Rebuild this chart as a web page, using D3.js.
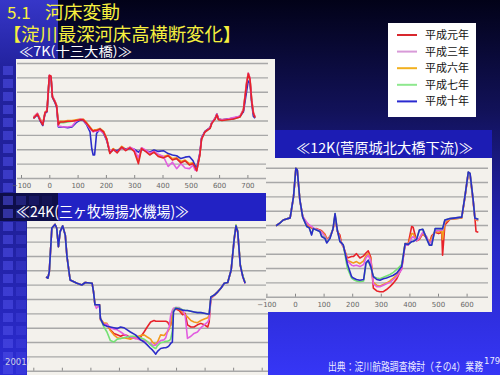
<!DOCTYPE html>
<html>
<head>
<meta charset="utf-8">
<script src="https://cdn.jsdelivr.net/npm/d3@7"></script>
<style>
body { margin: 0; background: #000; }
svg { display: block; }
</style>
</head>
<body>
<div id="chart"></div>
<script>
// 平成元年, 平成三年, 平成六年, 平成七年, 平成十年
const seriesNames = ["平成元年", "平成三年", "平成六年", "平成七年", "平成十年"];

// 7K (十三大橋): distance (m) and bed elevation (m)
const dist7K = [-56,-42,-33,-23,-15,-8,0,6,11,20,26,32,38,50,65,80,95,110,120,132,144,150,155,160,167,179,192,203,214,226,240,256,270,285,300,315,326,340,355,370,385,403,420,435,450,465,480,495,508,515,521,532,538,550,568,574,586,592,598,610,630,651,674,686,697,703,709,715,721,727];
const h1_7K = [-1.7,-1.1,-1.9,-2.6,-0.9,-0.7,4.3,4.2,1.3,0.6,0.0,-2.6,-2.2,-2.2,-2.1,-2.1,-2.0,-1.9,-1.9,-2.4,-3.0,-3.3,-3.5,-3.4,-3.4,-3.2,-3.6,-4.6,-6.6,-6.0,-6.5,-5.7,-6.2,-5.8,-6.3,-8.0,-5.9,-6.3,-6.8,-6.4,-7.0,-7.2,-6.9,-7.5,-7.3,-7.9,-7.6,-8.2,-8.0,-8.5,-9.0,-6.8,-4.6,-3.6,-3.1,-2.4,-1.8,-1.2,-1.9,-2.0,-1.9,-1.8,-1.5,-0.6,3.0,4.5,3.8,0.8,-1.0,-1.6];
const h3_7K = [-1.6,-1.0,-1.8,-2.5,-0.9,-0.6,4.3,4.1,1.4,0.7,0.0,-2.8,-2.8,-2.9,-2.9,-2.8,-2.1,-1.8,-1.9,-2.5,-3.2,-3.4,-3.6,-3.5,-3.5,-3.4,-3.7,-4.7,-6.2,-6.1,-6.4,-5.8,-6.1,-5.7,-6.0,-7.2,-5.8,-6.1,-6.5,-6.3,-6.7,-7.0,-8.4,-7.8,-8.7,-8.0,-8.6,-8.7,-8.2,-8.9,-9.0,-6.6,-4.5,-3.6,-3.0,-2.3,-1.7,-1.1,-1.8,-1.9,-1.8,-1.6,-1.4,-0.5,3.2,4.6,3.9,0.9,-0.9,-1.5];
const h6_7K = [-1.5,-1.0,-1.7,-2.4,-0.8,-0.6,4.2,4.1,1.4,0.7,0.1,-2.4,-2.1,-2.1,-2.0,-2.0,-1.9,-1.8,-1.8,-2.3,-2.9,-3.2,-3.4,-3.3,-3.3,-3.1,-3.5,-4.5,-6.4,-5.9,-6.3,-5.6,-6.0,-5.7,-6.1,-7.5,-5.8,-6.2,-6.6,-6.3,-6.8,-7.0,-6.8,-7.3,-7.2,-7.7,-7.5,-8.0,-7.9,-8.3,-8.8,-6.7,-4.5,-3.5,-3.0,-2.3,-1.7,-1.1,-1.8,-1.9,-1.8,-1.7,-1.4,-0.4,3.3,4.6,3.9,1.0,-0.8,-1.5];
const h7_7K = [-1.6,-1.1,-1.8,-2.5,-0.9,-0.7,4.2,4.0,1.3,0.6,0.0,-2.5,-2.3,-2.3,-2.2,-2.1,-2.0,-1.9,-1.9,-2.4,-3.0,-3.3,-3.5,-3.4,-3.4,-3.2,-3.6,-4.6,-6.5,-6.0,-6.4,-5.7,-6.1,-5.8,-6.2,-7.6,-5.9,-6.2,-6.7,-6.4,-6.9,-7.1,-6.9,-7.4,-7.3,-7.8,-7.6,-8.1,-8.0,-8.4,-8.9,-6.8,-4.6,-3.6,-3.1,-2.4,-1.8,-1.2,-1.9,-2.0,-1.9,-1.8,-1.5,-0.6,3.0,4.4,3.7,0.8,-1.0,-1.6];
const h10_7K = [-1.7,-1.2,-2.0,-2.7,-1.0,-0.8,4.1,4.0,1.2,0.5,-0.2,-2.9,-2.9,-2.9,-3.0,-2.9,-2.3,-1.9,-2.0,-2.6,-3.6,-5.9,-6.8,-6.8,-3.8,-3.2,-3.8,-4.8,-6.4,-6.1,-6.2,-5.8,-6.0,-5.9,-6.0,-6.4,-6.0,-6.2,-6.4,-6.1,-6.3,-6.2,-6.6,-6.8,-6.9,-7.3,-7.1,-7.0,-7.6,-8.3,-8.6,-6.5,-4.4,-3.5,-3.0,-2.3,-1.7,-1.1,-1.8,-1.9,-1.8,-1.7,-1.4,-0.8,2.0,3.5,3.2,0.5,-1.4,-1.7];

// 12K (菅原城北大橋下流)
const dist12K = [-66,-52,-41,-17,-5,3,8,17,27,41,50,58,64,75,87,93,105,111,122,133,140,148,157,163,169,183,198,204,215,227,240,248,256,265,274,286,297,309,320,332,344,356,373,385,396,408,413,425,435,447,460,470,478,490,502,513,516,524,542,583,594,606,612,623,629,633,641];
const h1_12K = [-2.1,-1.7,-1.3,-1.0,2.0,5.9,5.7,1.5,-0.9,-2.0,-2.2,-2.4,-2.6,-2.5,-2.7,-2.8,-3.3,-4.0,-3.6,-2.6,-0.8,-2.9,-3.4,-4.6,-5.0,-6.6,-6.4,-6.4,-6.0,-6.6,-6.3,-5.9,-5.6,-6.5,-10.8,-11.2,-11.3,-11.3,-11.0,-10.6,-10.1,-9.5,-8.0,-4.6,-4.6,-2.2,-2.3,-4.2,-4.0,-3.2,-3.8,-4.5,-3.5,-3.0,-3.2,-3.0,-6.2,-2.0,-1.2,-1.0,1.8,5.3,5.0,1.2,-1.0,-2.9,-3.0];
const h3_12K = [-2.1,-1.7,-1.3,-1.0,2.0,5.8,5.6,1.4,-0.8,-1.6,-2.0,-2.2,-2.4,-2.6,-2.8,-3.0,-3.6,-4.2,-3.7,-2.6,-0.6,-2.8,-4.0,-4.6,-5.0,-7.0,-7.6,-7.7,-7.6,-7.8,-7.5,-6.6,-6.2,-7.0,-10.2,-10.6,-10.6,-10.4,-10.2,-10.0,-9.6,-9.2,-8.2,-4.8,-4.8,-3.8,-3.6,-4.2,-3.8,-3.0,-3.6,-4.6,-4.2,-2.8,-2.8,-2.7,-2.7,-1.4,-1.1,-0.9,1.9,5.4,5.2,1.5,-1.0,-1.2,-1.3];
const h6_12K = [-2.1,-1.7,-1.3,-1.0,2.0,5.8,5.6,1.4,-0.8,-1.8,-2.1,-2.3,-2.5,-2.6,-2.8,-2.9,-3.4,-4.1,-3.7,-2.6,-0.7,-2.8,-3.8,-4.6,-5.0,-6.9,-7.2,-7.3,-7.1,-7.4,-7.0,-6.3,-6.0,-6.8,-10.0,-10.4,-10.5,-10.3,-10.1,-9.8,-9.4,-9.0,-8.1,-4.7,-4.7,-3.2,-3.2,-4.1,-3.9,-3.1,-3.7,-4.5,-3.8,-2.9,-3.0,-2.8,-4.0,-1.6,-1.2,-1.0,1.9,5.3,5.1,1.4,-1.0,-1.3,-1.4];
const h7_12K = [-2.1,-1.7,-1.3,-1.0,2.0,5.9,5.7,1.5,-0.9,-2.2,-2.4,-3.3,-2.5,-2.7,-2.9,-3.5,-3.8,-4.4,-3.8,-2.5,-0.4,-2.7,-4.3,-4.5,-4.8,-8.0,-9.4,-9.6,-9.8,-9.9,-9.8,-7.4,-7.0,-7.9,-9.2,-9.4,-9.5,-9.3,-9.1,-8.9,-8.6,-8.2,-7.5,-4.6,-4.7,-4.3,-4.3,-4.0,-2.7,-2.6,-3.9,-4.8,-4.8,-2.5,-2.5,-2.5,-2.5,-1.3,-1.1,-0.9,1.95,5.4,5.2,1.5,-1.05,-1.1,-1.2];
const h10_12K = [-2.1,-1.7,-1.3,-1.0,2.0,5.9,5.7,1.5,-0.9,-2.2,-2.4,-3.4,-2.5,-2.7,-2.9,-3.6,-3.9,-4.5,-3.9,-2.5,-0.4,-2.7,-4.3,-4.5,-4.8,-7.4,-9.2,-9.4,-9.6,-9.7,-9.6,-7.3,-6.9,-7.8,-9.2,-9.6,-9.7,-9.5,-9.4,-9.2,-9.0,-8.7,-7.8,-4.6,-4.7,-4.3,-4.3,-4.0,-2.7,-2.6,-3.9,-4.8,-4.8,-2.5,-2.5,-2.5,-2.5,-1.3,-1.1,-0.9,1.95,5.4,5.2,1.5,-1.05,-1.1,-1.2];

// 24K (三ヶ牧場揚水機場)
const dist24K = [-55,-49,-44,-35,-24,-18,-12,-6,3,12,18,29,53,70,82,106,111,116,121,132,135,146,158,170,182,194,206,217,229,240,258,276,288,299,311,317,323,329,335,346,358,364,370,376,381,387,391,399,411,423,432,440,452,463,475,487,499,511,516,522,534,546,557,569,581,593,604,610,616,625,634,642];
const h1_24K = [-0.9,-1.1,-0.2,5.9,6.4,5.9,3.3,5.4,6.2,4.9,1.9,-1.35,-1.8,-2.05,-1.7,-1.8,-3.0,-4.8,-4.8,-4.8,-6.9,-7.4,-7.6,-8.3,-8.8,-9.0,-9.2,-9.0,-9.1,-9.4,-9.5,-9.3,-8.6,-7.9,-7.2,-7.1,-7.0,-7.1,-7.1,-7.1,-7.1,-7.1,-7.2,-7.6,-7.7,-6.5,-5.5,-5.4,-5.6,-6.2,-6.0,-7.6,-7.9,-7.9,-7.6,-7.4,-7.6,-7.9,-7.2,-3.9,-3.5,-3.0,-2.5,-1.8,-1.7,0.0,4.4,6.1,5.3,0.7,-0.9,-1.8];
const h3_24K = [-0.9,-1.1,-0.2,5.9,6.4,5.9,3.3,5.4,6.2,4.9,1.9,-1.35,-1.8,-2.05,-1.7,-1.8,-3.0,-4.8,-5.3,-4.8,-6.7,-7.6,-7.5,-8.0,-8.2,-8.3,-8.6,-8.9,-9.2,-9.3,-9.5,-9.7,-9.8,-10.0,-10.2,-10.4,-10.5,-10.4,-10.2,-9.8,-9.7,-9.4,-8.5,-7.9,-6.3,-5.6,-5.3,-5.2,-5.2,-5.6,-6.3,-9.5,-9.2,-8.8,-8.6,-8.0,-7.6,-7.2,-6.8,-3.8,-3.45,-3.0,-2.5,-1.8,-1.7,0.05,4.5,6.2,5.4,0.7,-0.9,-1.8];
const h6_24K = [-0.9,-1.1,-0.2,5.9,6.4,5.9,3.3,5.4,6.2,4.9,1.9,-1.35,-1.8,-2.05,-1.7,-1.8,-3.0,-4.8,-4.8,-4.8,-6.7,-7.3,-7.4,-8.4,-9.0,-9.4,-9.5,-9.4,-9.5,-9.6,-9.3,-9.1,-9.0,-9.3,-9.6,-10.0,-10.2,-10.4,-10.0,-9.0,-9.1,-8.8,-8.6,-8.2,-7.5,-6.0,-5.5,-5.3,-5.4,-5.8,-6.2,-6.5,-7.0,-7.2,-7.3,-7.0,-6.8,-6.6,-6.3,-3.8,-3.45,-3.0,-2.5,-1.8,-1.7,0.05,4.6,6.3,5.5,0.8,-0.8,-1.7];
const h7_24K = [-0.9,-1.1,-0.2,5.9,6.4,5.9,3.3,5.4,6.2,4.9,1.9,-1.35,-1.8,-2.05,-1.7,-1.8,-3.0,-4.8,-4.8,-4.8,-6.7,-7.8,-8.6,-9.8,-10.0,-9.6,-9.5,-9.4,-9.3,-9.2,-9.2,-9.4,-9.6,-9.9,-10.4,-10.6,-10.8,-10.9,-10.5,-10.1,-10.0,-9.9,-9.9,-9.8,-9.6,-8.5,-5.6,-5.2,-5.3,-5.5,-5.6,-5.6,-5.7,-5.8,-5.9,-5.9,-6.0,-6.1,-6.1,-3.7,-3.45,-3.0,-2.5,-1.8,-1.7,0.05,4.6,6.3,5.5,0.8,-0.8,-1.7];
const h10_24K = [-0.9,-1.1,-0.2,5.9,6.4,5.9,3.3,5.4,6.2,4.9,1.9,-1.35,-1.8,-2.05,-1.7,-1.8,-3.0,-4.8,-4.8,-4.8,-6.7,-7.6,-7.8,-7.9,-8.0,-8.1,-7.9,-8.0,-8.3,-8.6,-9.0,-9.7,-10.0,-10.4,-10.9,-11.1,-11.4,-11.7,-11.3,-10.9,-10.8,-10.8,-10.7,-10.5,-10.2,-10.0,-5.8,-5.3,-5.4,-5.55,-5.6,-5.6,-5.7,-5.8,-5.9,-5.9,-6.0,-6.1,-6.1,-3.7,-3.45,-3.0,-2.5,-1.8,-1.7,0.05,4.5,6.2,5.4,0.7,-0.9,-1.8];

const colors = ["#e8222a", "#e25ee0", "#f29a1e", "#74e074", "#2c2cc8"];
const legendColors = ["#d8282e", "#d89ad8", "#f2b01e", "#8ee88e", "#2a2ad0"];
const jp = "'Noto Sans CJK JP', 'Noto Sans', sans-serif";

const width = 500;
const height = 375;

const svg = d3.select("#chart")
    .append("svg")
    .attr("width", width)
    .attr("height", height);

const defs = svg.append("defs");

const bg = defs.append("linearGradient").attr("id", "bg")
    .attr("x1", 0).attr("y1", 0).attr("x2", 0).attr("y2", 1);
[[0, "#020218"], [0.3, "#12125a"], [0.65, "#2626c4"], [1, "#3636f6"]]
    .forEach(s => bg.append("stop").attr("offset", s[0]).attr("stop-color", s[1]));

const strip = defs.append("linearGradient").attr("id", "strip")
    .attr("x1", 0).attr("y1", 0).attr("x2", 0).attr("y2", 1);
[[0, "#3636c8"], [0.18, "#22229e"], [0.6, "#20209a"], [1, "#2c2cd6"]]
    .forEach(s => strip.append("stop").attr("offset", s[0]).attr("stop-color", s[1]));

svg.append("rect").attr("width", width).attr("height", height).attr("fill", "url(#bg)");
svg.append("rect").attr("width", 58).attr("height", height).attr("fill", "url(#strip)");
svg.append("rect").attr("x", 0).attr("y", 193).attr("width", 58).attr("height", 28).attr("fill", "#0e0e4a");

// decorative squares down the left edge
[0.55, 0.3, 0.15, 0.07].forEach((op, c) => {
    for (let yy = 66; yy < 370; yy += 13) {
        svg.append("rect")
            .attr("x", 3 + c * 13).attr("y", yy)
            .attr("width", 10).attr("height", 9)
            .attr("fill", "#5050ea").attr("opacity", op);
    }
});

// title bands
svg.append("rect").attr("x", 58).attr("y", 193).attr("width", 209).attr("height", 28).attr("fill", "#2222c4");
svg.append("rect").attr("x", 275).attr("y", 130).attr("width", 217).attr("height", 28).attr("fill", "#1c1cb4");

function drawPanel(p, dist, series, order) {
    const g = svg.append("g");

    g.append("rect")
        .attr("x", p.box[0]).attr("y", p.box[1])
        .attr("width", p.box[2]).attr("height", p.box[3])
        .attr("fill", "#f3f1ec");

    const x = d3.scaleLinear().domain(p.xDomain).range(p.xRange);
    const y = d3.scaleLinear().domain(p.yDomain).range(p.yRange);

    g.append("g")
        .attr("transform", `translate(${p.gridX[0]},0)`)
        .call(d3.axisLeft(y)
            .tickValues(d3.range(p.yDomain[0], p.yDomain[1] + 0.1, 2))
            .tickSize(-(p.gridX[1] - p.gridX[0]))
            .tickFormat(""))
        .call(a => a.select(".domain").remove())
        .call(a => a.selectAll("line").attr("stroke", "#a8a8a8").attr("stroke-width", 1.4));

    const ax = g.append("g")
        .attr("transform", `translate(0,${p.yRange[0]})`)
        .call(d3.axisBottom(x)
            .tickValues(d3.range(p.xDomain[0], p.xDomain[1] + 1, 100))
            .tickSize(-3)
            .tickPadding(5)
            .tickFormat(p.labels ? d3.format("d") : ""));
    ax.select(".domain").remove();
    ax.selectAll("line").attr("stroke", "#888");
    ax.selectAll("text")
        .attr("fill", "#666")
        .attr("font-size", 7)
        .attr("font-family", "'DejaVu Sans', sans-serif");

    const line = d3.line()
        .x((d, i) => x(dist[i]))
        .y(d => y(d));

    order.forEach(k => {
        g.append("path")
            .datum(series[k])
            .attr("d", line)
            .attr("fill", "none")
            .attr("stroke", colors[k])
            .attr("stroke-width", 1.6)
            .attr("stroke-linejoin", "round");
    });
}

// 24K first (lowest), then 7K, then 12K on top
drawPanel({
    box: [27, 221, 241, 160], gridX: [27, 268],
    xDomain: [-100, 700], xRange: [33.3, 261.7],
    yDomain: [-14, 6], yRange: [370.7, 227.3], labels: false
}, dist24K, [h1_24K, h3_24K, h6_24K, h7_24K, h10_24K], [0, 2, 1, 3, 4]);

drawPanel({
    box: [16, 59, 259, 134], gridX: [17, 268],
    xDomain: [-100, 700], xRange: [21, 247.4],
    yDomain: [-10, 6], yRange: [178, 63], labels: true
}, dist7K, [h1_7K, h3_7K, h6_7K, h7_7K, h10_7K], [3, 2, 4, 1, 0]);

drawPanel({
    box: [266, 158, 226, 154], gridX: [266, 488],
    xDomain: [-100, 600], xRange: [266.4, 466.6],
    yDomain: [-12, 6], yRange: [296.7, 167.7], labels: true
}, dist12K, [h1_12K, h3_12K, h6_12K, h7_12K, h10_12K], [0, 2, 1, 3, 4]);

// titles
svg.append("text").attr("x", 7).attr("y", 19)
    .attr("font-family", jp).attr("font-size", 17).attr("fill", "#f6f03e")
    .text("5.1");
svg.append("text").attr("x", 45).attr("y", 19)
    .attr("font-family", jp).attr("font-size", 18).attr("fill", "#f6f03e")
    .attr("textLength", 75).attr("lengthAdjust", "spacingAndGlyphs")
    .text("河床変動");
svg.append("text").attr("x", 3).attr("y", 41)
    .attr("font-family", jp).attr("font-size", 18).attr("fill", "#f6f03e")
    .attr("textLength", 238).attr("lengthAdjust", "spacingAndGlyphs")
    .text("【淀川最深河床高横断変化】");

const subTitles = [
    ["≪7K(十三大橋)≫", 19, 56, 13, 113],
    ["≪12K(菅原城北大橋下流)≫", 296, 153, 14, 177],
    ["≪24K(三ヶ牧場揚水機場)≫", 16, 217, 15, 173]
];
subTitles.forEach(t => {
    svg.append("text").attr("x", t[1]).attr("y", t[2])
        .attr("font-family", jp).attr("font-size", t[3]).attr("fill", "#ffffff")
        .attr("textLength", t[4]).attr("lengthAdjust", "spacingAndGlyphs")
        .text(t[0]);
});

// legend
const legend = svg.append("g");
legend.append("rect").attr("x", 388).attr("y", 23).attr("width", 88).attr("height", 94).attr("fill", "#ffffff");
seriesNames.forEach((name, i) => {
    const ly = 35 + i * 16.6;
    legend.append("line")
        .attr("x1", 397).attr("x2", 417).attr("y1", ly).attr("y2", ly)
        .attr("stroke", legendColors[i]).attr("stroke-width", 2);
    legend.append("text")
        .attr("x", 425).attr("y", ly + 4)
        .attr("font-family", jp).attr("font-size", 11).attr("fill", "#111")
        .text(name);
});

// footer
svg.append("text").attr("x", 5).attr("y", 365)
    .attr("font-family", "'DejaVu Sans', sans-serif").attr("font-size", 8.5).attr("fill", "#cfd0e6")
    .text("2001/");
svg.append("text").attr("x", 328).attr("y", 371)
    .attr("font-family", jp).attr("font-size", 11).attr("fill", "#eaeaff")
    .attr("textLength", 155).attr("lengthAdjust", "spacingAndGlyphs")
    .text("出典：淀川航路調査検討（その4）業務");
svg.append("text").attr("x", 484).attr("y", 364)
    .attr("font-family", "'DejaVu Sans', sans-serif").attr("font-size", 8.5).attr("fill", "#eaeaff")
    .text("179");
</script>
</body>
</html>
